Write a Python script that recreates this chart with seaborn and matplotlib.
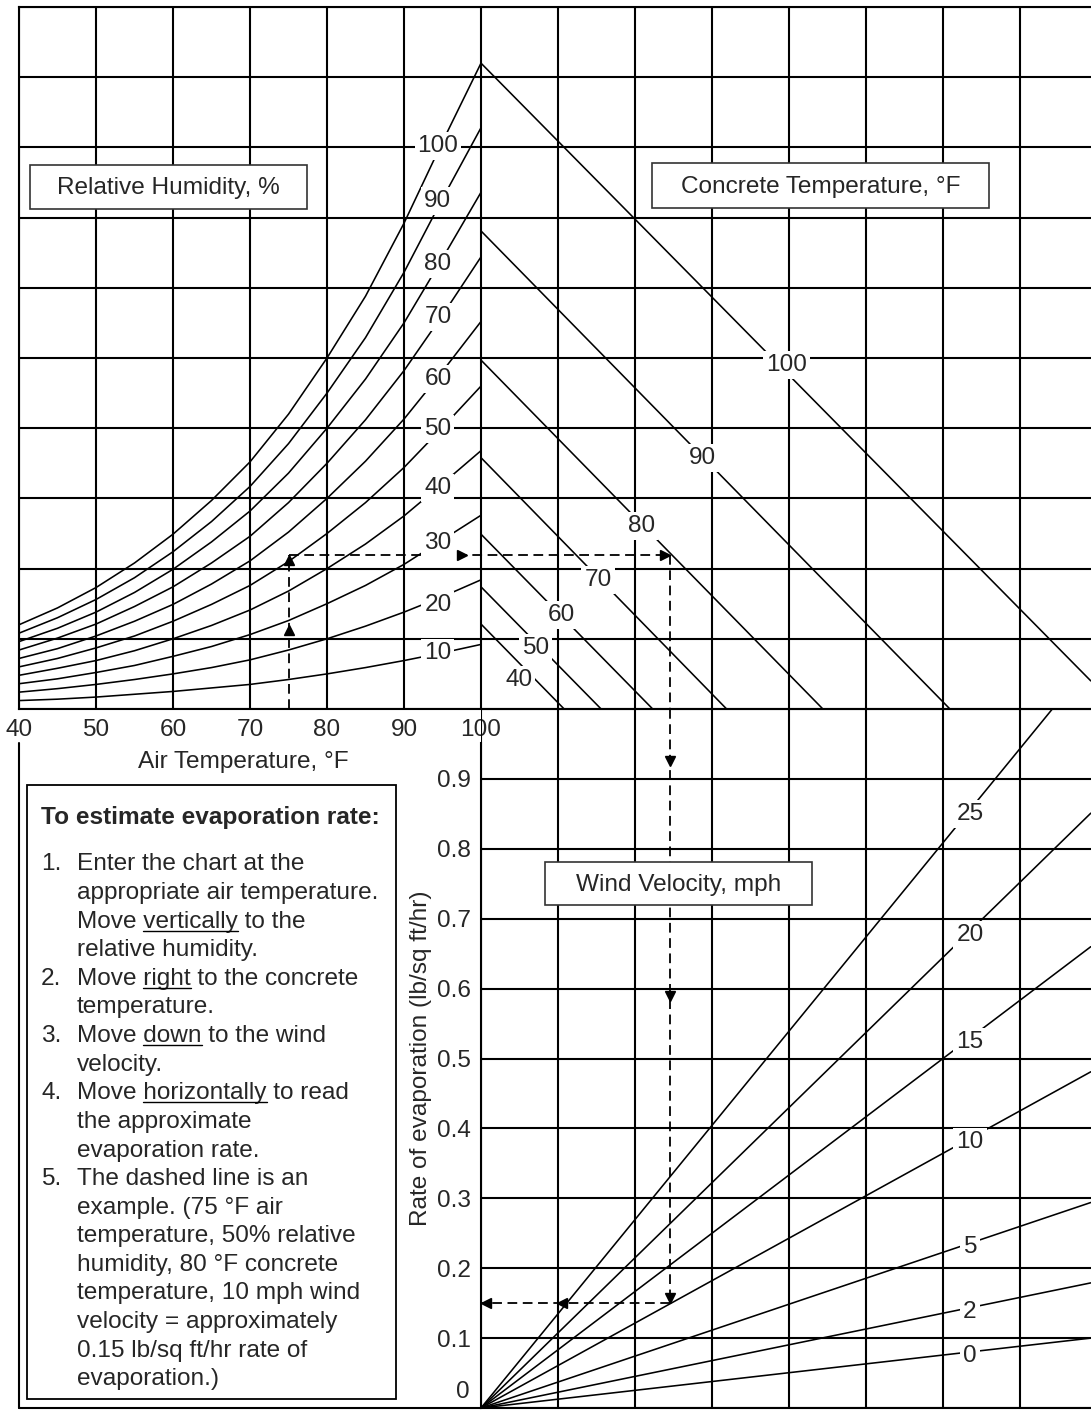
import numpy as np
import pandas as pd
import matplotlib
matplotlib.use("Agg")
import matplotlib.pyplot as plt
from matplotlib.patches import Rectangle
import seaborn as sns

sns.set_style("white")
plt.rcParams["font.family"] = ["Liberation Sans", "DejaVu Sans"]
plt.rcParams["lines.scale_dashes"] = False

W, H = 1091, 1410
FS = 17.6

# --- relative humidity curves (height in grid rows, one row = one square)
air_temp = [40, 45, 50, 55, 60, 65, 70, 75, 80, 85, 90, 95, 100]
rh_curves = {
    100: [1.20, 1.44, 1.73, 2.08, 2.49, 2.97, 3.52, 4.20, 5.00, 5.88, 6.92, 8.08, 9.20],
    90: [1.08, 1.30, 1.56, 1.87, 2.24, 2.67, 3.17, 3.78, 4.50, 5.29, 6.22, 7.27, 8.28],
    80: [0.96, 1.15, 1.38, 1.66, 1.99, 2.38, 2.82, 3.36, 4.00, 4.70, 5.50, 6.42, 7.36],
    70: [0.84, 1.01, 1.21, 1.46, 1.74, 2.08, 2.46, 2.94, 3.50, 4.12, 4.82, 5.61, 6.44],
    60: [0.72, 0.86, 1.04, 1.25, 1.49, 1.78, 2.11, 2.52, 3.00, 3.53, 4.13, 4.81, 5.52],
    50: [0.60, 0.72, 0.87, 1.04, 1.25, 1.49, 1.76, 2.10, 2.50, 2.94, 3.44, 4.01, 4.60],
    40: [0.48, 0.58, 0.69, 0.83, 1.00, 1.19, 1.41, 1.68, 2.00, 2.35, 2.75, 3.21, 3.68],
    30: [0.36, 0.43, 0.52, 0.62, 0.75, 0.89, 1.06, 1.26, 1.50, 1.76, 2.06, 2.41, 2.76],
    20: [0.24, 0.29, 0.35, 0.42, 0.50, 0.59, 0.70, 0.84, 1.00, 1.18, 1.38, 1.60, 1.84],
    10: [0.12, 0.14, 0.17, 0.21, 0.25, 0.30, 0.35, 0.42, 0.50, 0.59, 0.69, 0.80, 0.92],
}
rh_label_x = 94.4
rh_label_row = {100: 8.02, 90: 7.24, 80: 6.34, 70: 5.58, 60: 4.70,
                50: 3.99, 40: 3.15, 30: 2.36, 20: 1.48, 10: 0.80}

# --- concrete temperature lines (start at x=100, end where they leave the grid)
concrete_temp = [100, 90, 80, 70, 60, 50, 40]
concrete_start = [9.20, 6.81, 4.97, 3.58, 2.49, 1.74, 1.21]
concrete_end_x = [179.2, 160.9, 144.4, 131.9, 122.3, 115.6, 110.8]
concrete_end_row = [0.40, 0, 0, 0, 0, 0, 0]
concrete_label_x = [139.7, 128.8, 120.8, 115.2, 110.5, 107.1, 104.9]
concrete_label_row = [4.90, 3.57, 2.61, 1.84, 1.34, 0.87, 0.41]

# --- wind velocity lines (from origin of lower chart)
wind_speed = [0, 2, 5, 10, 15, 20, 25]
wind_end_x = [179.2, 179.2, 179.2, 179.2, 179.2, 179.2, 174.2]
wind_end_rate = [0.100, 0.179, 0.294, 0.481, 0.660, 0.851, 1.0]
wind_label_x = 163.5

# --- dashed example: 75 F air, 50 % RH, 80 F concrete, 10 mph -> 0.15
ex_air, ex_row, ex_conc_x, ex_rate = 75, 2.19, 124.5, 0.15

rh_df = pd.DataFrame([(rh, t, v) for rh, vals in rh_curves.items()
                      for t, v in zip(air_temp, vals)], columns=["rh", "x", "row"])
conc_df = pd.DataFrame(
    [(c, 100, s) for c, s in zip(concrete_temp, concrete_start)] +
    [(c, x, r) for c, x, r in zip(concrete_temp, concrete_end_x, concrete_end_row)],
    columns=["temp", "x", "row"])
wind_df = pd.DataFrame(
    [(w, 100, 0.0) for w in wind_speed] +
    [(w, x, r) for w, x, r in zip(wind_speed, wind_end_x, wind_end_rate)],
    columns=["wind", "x", "rate"])


def frac(left, top, right, bottom):
    return [left / W, 1 - bottom / H, (right - left) / W, (bottom - top) / H]


fig = plt.figure(figsize=(W / 100, H / 100), dpi=100)
ax_top = fig.add_axes(frac(19, 7, 1091, 709))
ax_bot = fig.add_axes(frac(481, 709, 1091, 1408))
ax_bot.patch.set_visible(False)
xmax = 40 + 1072 / 7.7

lab_box = dict(boxstyle="square,pad=0.12", fc="white", ec="none")
GRID_LW = 1.5
LINE_LW = 1.15

# ---------- upper chart
ax_top.set_xlim(40, xmax)
ax_top.set_ylim(0, 10)
ax_top.set_xticks(range(40, 180, 10))
ax_top.set_xticklabels([str(v) if v <= 100 else "" for v in range(40, 180, 10)])
ax_top.set_yticks(range(0, 11))
ax_top.set_yticklabels([])
ax_top.tick_params(length=0, labelsize=FS, pad=7)
ax_top.grid(True, color="black", lw=GRID_LW)
for s in ["left", "top", "bottom"]:
    ax_top.spines[s].set_color("black")
    ax_top.spines[s].set_linewidth(GRID_LW)
ax_top.spines["right"].set_visible(False)

sns.lineplot(data=rh_df, x="x", y="row", units="rh", estimator=None,
             color="black", lw=LINE_LW, ax=ax_top, legend=False, zorder=3)
sns.lineplot(data=conc_df, x="x", y="row", units="temp", estimator=None,
             color="black", lw=LINE_LW, ax=ax_top, legend=False, zorder=3)
ax_top.set_xlabel("")
ax_top.set_ylabel("")

for rh, row in rh_label_row.items():
    ax_top.text(rh_label_x, row, str(rh), ha="center", va="center",
                fontsize=FS, bbox=lab_box, zorder=6)
for c, lx, ly in zip(concrete_temp, concrete_label_x, concrete_label_row):
    ax_top.text(lx, ly, str(c), ha="center", va="center",
                fontsize=FS, bbox=lab_box, zorder=6)

dash = dict(color="black", lw=1.3, dashes=(7, 4), zorder=4)
ax_top.plot([ex_air, ex_air], [0, ex_row], **dash)
ax_top.plot([ex_air, ex_conc_x], [ex_row, ex_row], **dash)
ax_top.plot([ex_conc_x, ex_conc_x], [ex_row, 0], **dash)
mk = dict(color="black", ms=6.5, ls="none", zorder=5)
ax_top.plot([ex_air, ex_air], [1.12, ex_row - 0.07], marker="^", **mk)
ax_top.plot([97.5, ex_conc_x - 0.65], [ex_row, ex_row], marker=">", **mk)

# ---------- lower chart
ax_bot.set_xlim(100, xmax)
ax_bot.set_ylim(0, 1.0)
ax_bot.set_xticks(range(100, 180, 10))
ax_bot.set_xticklabels([])
yt = np.round(np.arange(0, 1.01, 0.1), 1)
ax_bot.set_yticks(yt)
ax_bot.set_yticklabels(["" if v in (0, 1.0) else f"{v:.1f}" for v in yt])
ax_bot.tick_params(length=0, labelsize=FS, pad=7)
ax_bot.grid(True, color="black", lw=GRID_LW)
ax_bot.spines["top"].set_visible(False)
ax_bot.spines["right"].set_visible(False)
for s in ["left", "bottom"]:
    ax_bot.spines[s].set_color("black")
    ax_bot.spines[s].set_linewidth(GRID_LW)
ax_bot.spines["left"].set_bounds(0, 0.952)

sns.lineplot(data=wind_df, x="x", y="rate", units="wind", estimator=None,
             color="black", lw=LINE_LW, ax=ax_bot, legend=False, zorder=3)
ax_bot.set_xlabel("")
ax_bot.set_ylabel("")
for w, ex, er in zip(wind_speed, wind_end_x, wind_end_rate):
    ax_bot.annotate(str(w), (wind_label_x, np.interp(wind_label_x, [100, ex], [0, er])),
                    xytext=(0, -4), textcoords="offset pixels",
                    ha="center", va="center", fontsize=FS, bbox=lab_box, zorder=6)

ax_bot.plot([ex_conc_x, ex_conc_x], [1.0, ex_rate], **dash)
ax_bot.plot([ex_conc_x, 100], [ex_rate, ex_rate], **dash)
ax_bot.plot([ex_conc_x] * 3, [0.926, 0.59, ex_rate + 0.008], marker="v", **mk)
ax_bot.plot([110.5, 100.6], [ex_rate, ex_rate], marker="<", **mk)

# ---------- overlay in pixel units for frames, boxes and notes
ov = fig.add_axes([0, 0, 1, 1])
ov.set_xlim(0, W)
ov.set_ylim(H, 0)
ov.axis("off")

ov.plot([19, 19], [743, 1408], color="black", lw=GRID_LW)
ov.plot([19, 481], [1408, 1408], color="black", lw=GRID_LW)
ov.text(243, 762, "Air Temperature, °F", ha="center", va="center", fontsize=FS)
ov.text(470, 1392, "0", ha="right", va="center", fontsize=FS)
ov.text(421, 1058, "Rate of evaporation (lb/sq ft/hr)", rotation=90,
        ha="center", va="center", fontsize=FS)

for (x0, y0, w, h), txt in [((30, 165, 277, 44), "Relative Humidity, %"),
                            ((652, 163, 337, 45), "Concrete Temperature, °F"),
                            ((545, 862, 267, 43), "Wind Velocity, mph")]:
    ov.add_patch(Rectangle((x0, y0), w, h, fc="white", ec="#333333", lw=1.2, zorder=5))
    ov.text(x0 + w / 2, y0 + h / 2 + 1, txt, ha="center", va="center",
            fontsize=FS, zorder=6)

ov.add_patch(Rectangle((27, 785), 369, 614, fc="white", ec="black", lw=1.3, zorder=5))
ov.text(41, 824, "To estimate evaporation rate:", fontweight="bold",
        fontsize=FS, va="baseline", zorder=6)

steps = [
    ("1.", "Enter the chart at the"),
    ("", "appropriate air temperature."),
    ("", "Move vertically to the"),
    ("", "relative humidity."),
    ("2.", "Move right to the concrete"),
    ("", "temperature."),
    ("3.", "Move down to the wind"),
    ("", "velocity."),
    ("4.", "Move horizontally to read"),
    ("", "the approximate"),
    ("", "evaporation rate."),
    ("5.", "The dashed line is an"),
    ("", "example. (75 °F air"),
    ("", "temperature, 50% relative"),
    ("", "humidity, 80 °F concrete"),
    ("", "temperature, 10 mph wind"),
    ("", "velocity = approximately"),
    ("", "0.15 lb/sq ft/hr rate of"),
    ("", "evaporation.)"),
]
underlined = {2: "vertically", 4: "right", 6: "down", 8: "horizontally"}

renderer = fig.canvas.get_renderer()


def width_of(s):
    t = ov.text(0, 0, s, fontsize=FS)
    w = t.get_window_extent(renderer).width
    t.remove()
    return w


for i, (num, line) in enumerate(steps):
    base = 870.5 + i * 28.6
    if num:
        ov.text(41, base, num, fontsize=FS, va="baseline", zorder=6)
    ov.text(77, base, line, fontsize=FS, va="baseline", zorder=6)
    if i in underlined:
        word = underlined[i]
        upto = line[:line.index(word) + len(word)]
        x1 = 77 + width_of(upto)
        x0 = x1 - width_of(word)
        ov.plot([x0, x1], [base + 3, base + 3], color="black", lw=1.0, zorder=6)

fig.savefig("out.png", dpi=100)
